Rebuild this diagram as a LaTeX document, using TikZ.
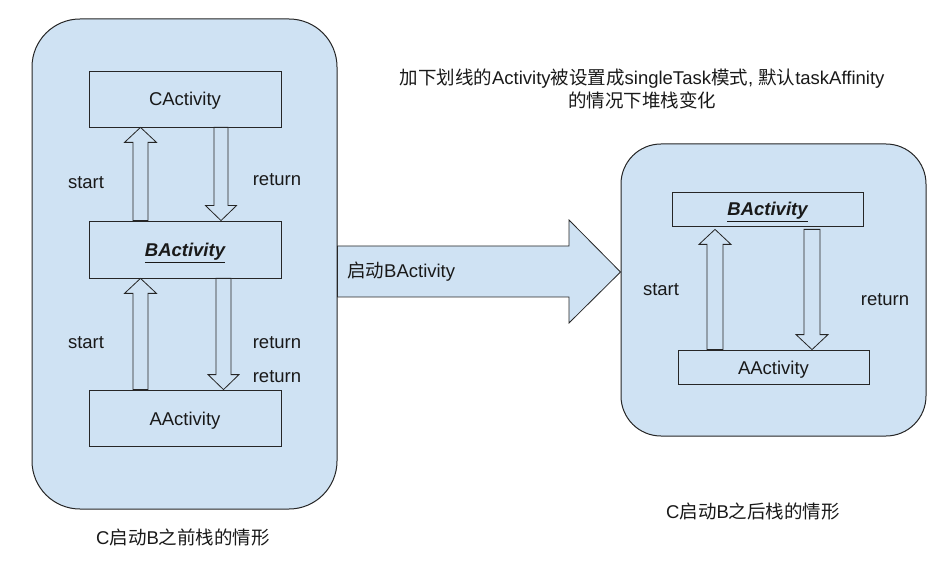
\documentclass[tikz,border=0pt]{standalone}
\usepackage{fontspec}
\setmainfont{Liberation Sans}
\newfontfamily\cjk{Noto Sans CJK SC}
\usetikzlibrary{calc}
\definecolor{paleblue}{RGB}{207,226,243}
\newcommand\upblock[6]{% #1 lower node, #2 upper node, #3 x centre, #4 half shaft, #5 half head, #6 gap below upper node
  \draw[blockarrow] let \p1=(#2.south), \p2=(#1.north) in
    ({(#3-#4)*1pt},\y2) -- ({(#3-#4)*1pt},{\y1-(15+#6)*1pt}) -- ({(#3-#5)*1pt},{\y1-(15+#6)*1pt})
    -- ({#3*1pt},{\y1-#6*1pt}) -- ({(#3+#5)*1pt},{\y1-(15+#6)*1pt}) -- ({(#3+#4)*1pt},{\y1-(15+#6)*1pt})
    -- ({(#3+#4)*1pt},\y2) -- cycle;}
\newcommand\downblock[6]{% #1 upper node, #2 lower node, #3 x centre, #4 half shaft, #5 half head, #6 gap below upper node
  \draw[blockarrow] let \p1=(#1.south), \p2=(#2.north) in
    ({(#3-#4)*1pt},{\y1-#6*1pt}) -- ({(#3-#4)*1pt},{\y2+15pt}) -- ({(#3-#5)*1pt},{\y2+15pt})
    -- ({#3*1pt},\y2) -- ({(#3+#5)*1pt},{\y2+15pt}) -- ({(#3+#4)*1pt},{\y2+15pt})
    -- ({(#3+#4)*1pt},{\y1-#6*1pt}) -- cycle;}
\begin{document}
\begin{tikzpicture}[x=1pt,y=-1pt,
  every node/.style={font=\fontsize{18.5}{23}\selectfont, inner sep=0pt, text=black!90},
  panel/.style={draw=black!85, fill=paleblue, line width=1pt},
  actbox/.style={draw=black!85, fill=paleblue, line width=0.8pt, text height=14pt, text depth=0pt},
  blockarrow/.style={draw=black!85, fill=paleblue, line width=0.8pt, line join=miter}]
\useasboundingbox (0,0) rectangle (945,585);
% panels
\node[panel, rounded corners=48pt, minimum width=305pt, minimum height=490pt] (L) at (184.5,264) {};
\node[panel, rounded corners=40pt, minimum width=305pt, minimum height=292pt] (R) at (773.5,290) {};
% big arrow
\draw[blockarrow] let \p1=(L.east), \p2=(R.west) in
  (\x1,-246pt) -- (569pt,-246pt) -- (569pt,-220pt) -- (\x2,-272pt) -- (569pt,-323pt) -- (569pt,-297pt) -- (\x1,-297pt) -- cycle;
\node[anchor=west] (go) at (347,272) {{\cjk 启动}BActivity};
% left stack
\node[actbox, minimum width=192pt, minimum height=56pt] (C1) at (185,99) {CActivity};
\node[actbox, minimum width=192pt, minimum height=57pt] (B1) at (185,249.5) {\textbf{\textit{\underline{BActivity}}}};
\node[actbox, minimum width=192pt, minimum height=56pt] (A1) at (185,418) {AActivity};
\upblock{B1}{C1}{140.5}{7.5}{16}{0}
\downblock{C1}{B1}{221}{7}{15.5}{0}
\upblock{A1}{B1}{140.5}{7.5}{16}{0}
\downblock{B1}{A1}{223.5}{7.5}{15.5}{0}
\node (s1) at (86,183) {start};
\node (r1) at (277,180) {return};
\node (s2) at (86,343) {start};
\node (r2) at (277,343) {return};
\node (r3) at (277,377) {return};
% right stack
\node[actbox, minimum width=191pt, minimum height=34pt] (B2) at (767.5,209) {\textbf{\textit{\underline{BActivity}}}};
\node[actbox, minimum width=191pt, minimum height=34pt] (A2) at (773.5,367) {AActivity};
\upblock{A2}{B2}{715}{8}{16}{3}
\downblock{B2}{A2}{812}{8}{16}{3}
\node (s3) at (661,290) {start};
\node (r4) at (885,300) {return};
% texts
\node[align=center] (title) at (642,88.5) {{\cjk 加下划线的}Activity{\cjk 被设置成}singleTask{\cjk 模式}, {\cjk 默认}taskAffinity\\{\cjk 的情况下堆栈变化}};
\node (cap1) at (183,537) {C{\cjk 启动}B{\cjk 之前栈的情形}};
\node (cap2) at (753,511) {C{\cjk 启动}B{\cjk 之后栈的情形}};
\end{tikzpicture}
\end{document}
